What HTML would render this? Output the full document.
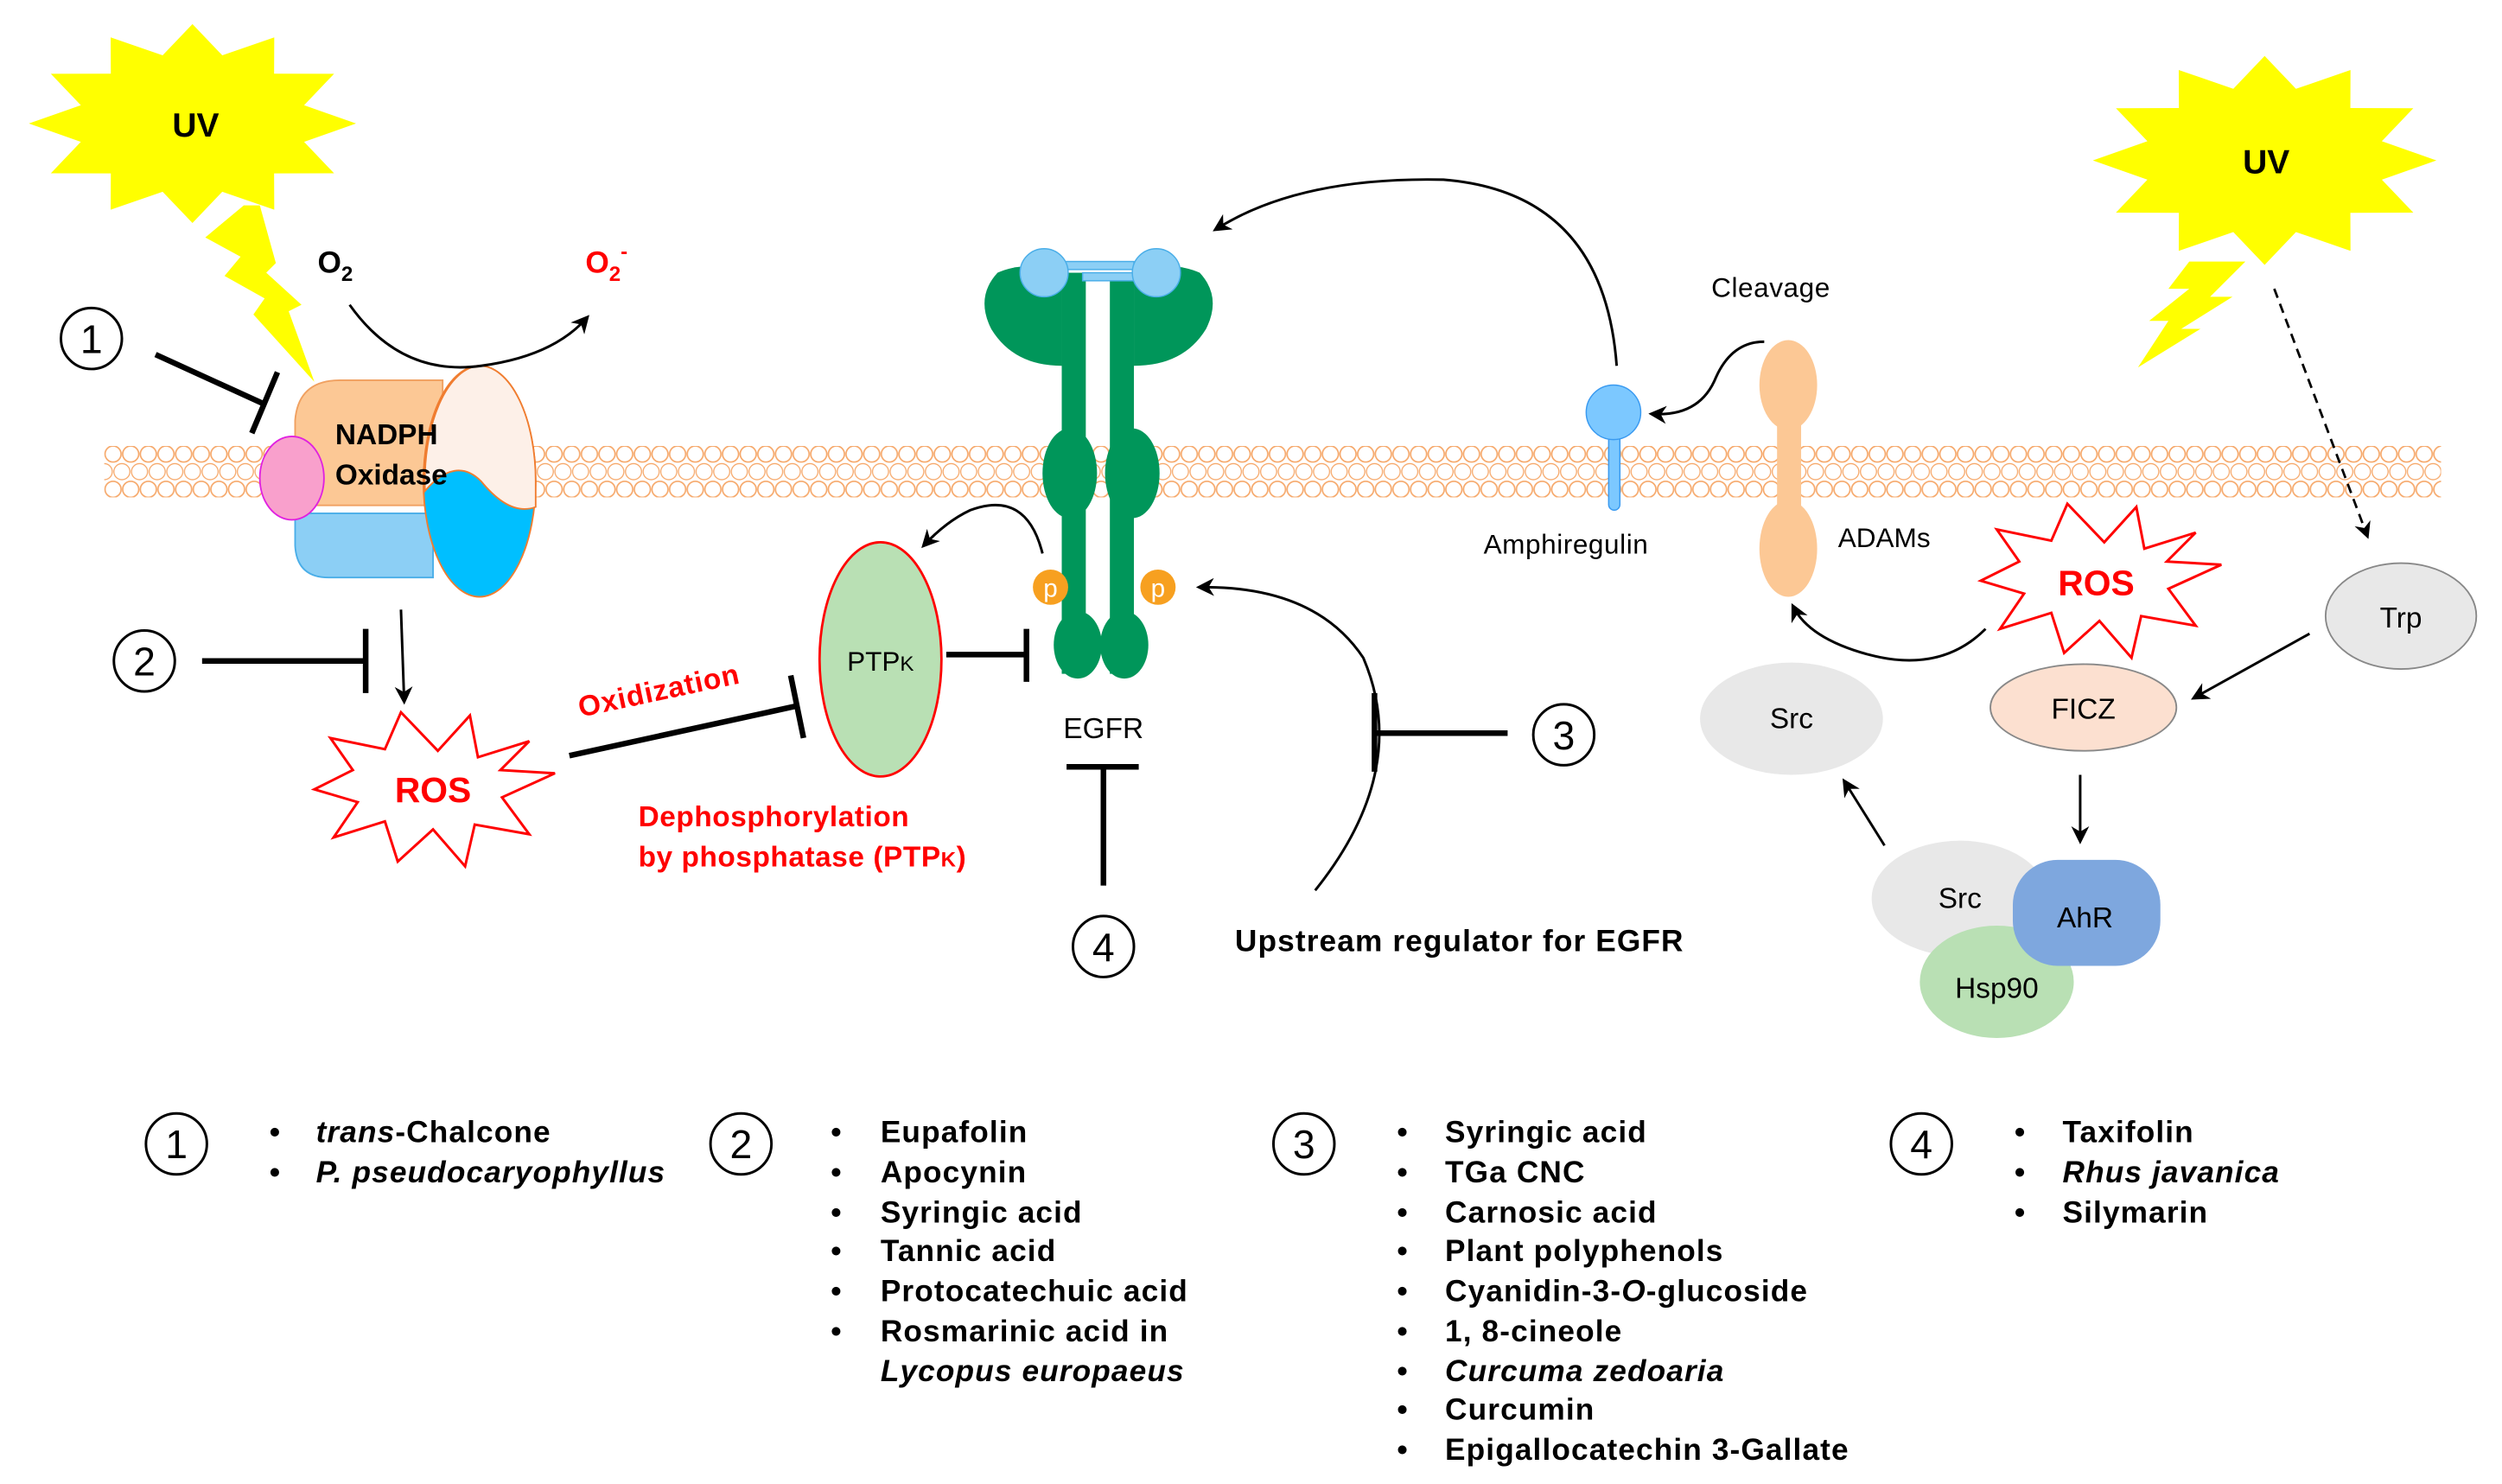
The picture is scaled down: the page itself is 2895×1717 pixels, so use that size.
<!DOCTYPE html>
<html><head><meta charset="utf-8"><style>
html,body{margin:0;padding:0;background:#fff;}
svg{display:block;}
text{font-family:"Liberation Sans",Arial,sans-serif;}
.b{font-weight:bold;}
</style></head><body>
<svg width="2895" height="1717" viewBox="0 0 1560 925" preserveAspectRatio="none" xmlns="http://www.w3.org/2000/svg">
<defs>
<pattern id="mem" x="65" y="278" width="11" height="32" patternUnits="userSpaceOnUse">
<circle cx="5.5" cy="5" r="5" fill="none" stroke="#f6a86a" stroke-width="0.9"/>
<circle cx="5.5" cy="27" r="5" fill="none" stroke="#f6a86a" stroke-width="0.9"/>
<circle cx="0" cy="16" r="5" fill="none" stroke="#f6a86a" stroke-width="0.7"/>
<circle cx="11" cy="16" r="5" fill="none" stroke="#f6a86a" stroke-width="0.7"/>
</pattern>
<marker id="ah" viewBox="0 0 10 10" refX="8" refY="5" markerWidth="7" markerHeight="7" orient="auto"><path d="M0,0 L10,5 L0,10 L3,5 z" fill="#000"/></marker>
<g id="star"><polygon points="102,0 69.6,11.4 88.3,31 50.9,31.1 51,53.7 18.6,42.5 0,62 -18.6,42.5 -51,53.7 -50.9,31.1 -88.3,31 -69.6,11.4 -102,0 -69.6,-11.4 -88.3,-31 -50.9,-31.1 -51,-53.7 -18.6,-42.5 0,-62 18.6,-42.5 51,-53.7 50.9,-31.1 88.3,-31 69.6,-11.4" fill="#ffff00"/></g>
<g id="ros"><polygon points="78,-10 45,5 62,28 28,22 22,48 2,25 -20,45 -28,20 -60,30 -45,8 -72,0 -48,-12 -62,-32 -28,-25 -18,-48 5,-24 25,-46 30,-20 62,-30 44,-12" fill="#fff" stroke="#ff0000" stroke-width="1.6"/></g>
</defs>
<rect x="65" y="278" width="1457" height="32" fill="url(#mem)"/>

<use href="#star" x="120" y="77"/>
<text x="122" y="85" class="b" font-size="21" text-anchor="middle">UV</text>
<polygon points="152,128 128,148 150,160 140,172 165,186 158,196 196,238 180,194 188,190 166,170 172,164 162,128" fill="#ffff00"/>
<g transform="translate(1412,100) scale(1.05,1.05)"><use href="#star"/></g>
<text x="1413" y="108" class="b" font-size="21" text-anchor="middle">UV</text>
<polygon points="1365,163 1400,163 1378,185 1392,185 1360,205 1372,205 1333,229 1352,200 1340,200 1365,180 1352,180" fill="#ffff00"/>

<path d="M184,320 L270,320 L270,360 L205,360 Q185,360 184,340 Z" fill="#8ccff5" stroke="#4aaee8" stroke-width="1"/>
<path d="M184,262 Q186,237 212,237 L276,237 L276,315 L184,315 Z" fill="#fcc895" stroke="#f0a060" stroke-width="1"/>
<ellipse cx="182" cy="298" rx="20" ry="26" fill="#f9a0cc" stroke="#e020e0" stroke-width="1"/>
<ellipse cx="299" cy="300" rx="35" ry="72" fill="#00bfff" stroke="#f07d30" stroke-width="1"/>
<path d="M299,228 A35,72 0 0 1 334,300 L334,316 Q318,322 300,300 Q284,284 265,306 A35,72 0 0 1 299,228 Z" fill="#fdf0e8" stroke="#f07d30" stroke-width="1"/>
<text x="209" y="277" class="b" font-size="18">NADPH</text>
<text x="209" y="302" class="b" font-size="18">Oxidase</text>

<text x="198" y="170" class="b" font-size="19">O<tspan font-size="13" dy="5">2</tspan></text>
<text x="365" y="170" class="b" font-size="19" fill="#ff0000">O<tspan font-size="13" dy="5">2</tspan><tspan font-size="13" dy="-14">-</tspan></text>
<path d="M218,190 Q250,235 300,228 Q345,222 366,198" fill="none" stroke="#000" stroke-width="1.6" marker-end="url(#ah)"/>

<circle cx="57" cy="211" r="19" fill="#fff" stroke="#000" stroke-width="1.6"/>
<text x="57" y="220" font-size="25" text-anchor="middle">1</text>
<path d="M97,221 L165,252" stroke="#000" stroke-width="3.5"/>
<path d="M173,232 L157,270" stroke="#000" stroke-width="3.5"/>
<circle cx="90" cy="412" r="19" fill="#fff" stroke="#000" stroke-width="1.6"/>
<text x="90" y="421" font-size="25" text-anchor="middle">2</text>
<path d="M126,412 L228,412 M228,392 L228,432" stroke="#000" stroke-width="3.5"/>
<path d="M250,380 L252,437" stroke="#000" stroke-width="1.6" marker-end="url(#ah)"/>

<use href="#ros" x="268" y="492"/>
<text x="270" y="500" class="b" font-size="22" fill="#ff0000" text-anchor="middle">ROS</text>

<path d="M355,471 L497,440 M493,421 L501,460" stroke="#000" stroke-width="3.5"/>
<text transform="translate(362,447) rotate(-12)" class="b" font-size="18" fill="#ff0000" letter-spacing="0.5">Oxidization</text>

<ellipse cx="549" cy="411" rx="38" ry="73" fill="#b9e0b4" stroke="#ff0000" stroke-width="1.5"/>
<text x="549" y="418" font-size="17" text-anchor="middle">PTP<tspan font-size="13">K</tspan></text>
<path d="M590,408 L640,408 M640,392 L640,425" stroke="#000" stroke-width="3.5"/>
<text x="398" y="515" class="b" font-size="18" fill="#ff0000" letter-spacing="0.3">Dephosphorylation</text>
<text x="398" y="540" class="b" font-size="18" fill="#ff0000" letter-spacing="0.3">by phosphatase (PTP<tspan font-size="13">K</tspan>)</text>

<g fill="#00965a">
<path d="M662,170 Q640,162 622,170 Q608,185 618,205 Q632,228 662,228 Z"/>
<path d="M707,170 Q730,162 748,170 Q762,185 752,205 Q738,228 707,228 Z"/>
<rect x="662" y="170" width="15" height="250"/>
<rect x="692" y="170" width="15" height="250"/>
<ellipse cx="667" cy="295" rx="17" ry="28"/>
<ellipse cx="706" cy="295" rx="17" ry="28"/>
<ellipse cx="672" cy="402" rx="15" ry="21"/>
<ellipse cx="701" cy="402" rx="15" ry="21"/>
</g>
<rect x="662" y="163" width="45" height="5" fill="#8ccff5" stroke="#4aaee8" stroke-width="0.8"/>
<rect x="675" y="170" width="35" height="5" fill="#8ccff5" stroke="#4aaee8" stroke-width="0.8"/>
<circle cx="651" cy="170" r="15" fill="#8ccff5" stroke="#4aaee8" stroke-width="0.8"/>
<circle cx="721" cy="170" r="15" fill="#8ccff5" stroke="#4aaee8" stroke-width="0.8"/>
<circle cx="655" cy="366" r="11" fill="#f7a020"/>
<circle cx="722" cy="366" r="11" fill="#f7a020"/>
<text x="655" y="372" font-size="16" fill="#fff" text-anchor="middle">p</text>
<text x="722" y="372" font-size="16" fill="#fff" text-anchor="middle">p</text>
<text x="688" y="460" font-size="18" text-anchor="middle">EGFR</text>
<path d="M665,478 L710,478 M688,478 L688,552" stroke="#000" stroke-width="3.5"/>
<circle cx="688" cy="590" r="19" fill="#fff" stroke="#000" stroke-width="1.6"/>
<text x="688" y="599" font-size="25" text-anchor="middle">4</text>

<path d="M650,345 Q640,305 605,318 Q590,325 576,340" fill="none" stroke="#000" stroke-width="1.6" marker-end="url(#ah)"/>
<path d="M1008,228 Q1000,120 900,112 Q810,110 758,143" fill="none" stroke="#000" stroke-width="1.6" marker-end="url(#ah)"/>
<path d="M820,555 Q880,480 850,410 Q820,365 748,366" fill="none" stroke="#000" stroke-width="1.6" marker-end="url(#ah)"/>

<path d="M857,432 L857,481 M857,457 L940,457" stroke="#000" stroke-width="3.5"/>
<circle cx="975" cy="458" r="19" fill="#fff" stroke="#000" stroke-width="1.6"/>
<text x="975" y="467" font-size="25" text-anchor="middle">3</text>
<text x="770" y="593" class="b" font-size="19" letter-spacing="0.6">Upstream regulator for EGFR</text>

<rect x="1003" y="258" width="7" height="60" rx="3.5" fill="#7cc8ff" stroke="#3a9af0" stroke-width="0.8"/>
<circle cx="1006" cy="257" r="17" fill="#7cc8ff" stroke="#3a9af0" stroke-width="0.8"/>
<text x="925" y="345" font-size="17" letter-spacing="0.3">Amphiregulin</text>
<text x="1067" y="185" font-size="17" letter-spacing="0.3">Cleavage</text>
<path d="M1100,213 Q1080,213 1070,235 Q1060,260 1030,258" fill="none" stroke="#000" stroke-width="1.6" marker-end="url(#ah)"/>
<g fill="#fcc895">
<rect x="1108" y="240" width="15" height="100"/>
<ellipse cx="1115" cy="240" rx="18" ry="28"/>
<ellipse cx="1115" cy="342" rx="18" ry="30"/>
</g>
<text x="1146" y="341" font-size="17">ADAMs</text>

<use href="#ros" x="1307" y="362"/>
<text x="1307" y="371" class="b" font-size="22" fill="#ff0000" text-anchor="middle">ROS</text>
<path d="M1238,392 Q1210,420 1165,408 Q1128,398 1118,378" fill="none" stroke="#000" stroke-width="1.6" marker-end="url(#ah)"/>

<ellipse cx="1117" cy="448" rx="57" ry="35" fill="#e8e8e8"/>
<text x="1117" y="454" font-size="18" text-anchor="middle">Src</text>
<ellipse cx="1299" cy="441" rx="58" ry="27" fill="#fce0d0" stroke="#888" stroke-width="1"/>
<text x="1299" y="448" font-size="18" text-anchor="middle">FICZ</text>
<ellipse cx="1497" cy="384" rx="47" ry="33" fill="#e8e8e8" stroke="#888" stroke-width="1"/>
<text x="1497" y="391" font-size="18" text-anchor="middle">Trp</text>
<path d="M1418,180 L1476,334" stroke="#000" stroke-width="1.5" stroke-dasharray="6,4" fill="none" marker-end="url(#ah)"/>
<path d="M1440,395 L1368,435" stroke="#000" stroke-width="1.6" marker-end="url(#ah)"/>
<path d="M1297,483 L1297,524" stroke="#000" stroke-width="1.6" marker-end="url(#ah)"/>
<path d="M1175,527 L1150,487" stroke="#000" stroke-width="1.6" marker-end="url(#ah)"/>

<ellipse cx="1222" cy="560" rx="55" ry="36" fill="#e8e8e8"/>
<ellipse cx="1245" cy="612" rx="48" ry="35" fill="#b9e0b4"/>
<rect x="1255" y="536" width="92" height="66" rx="28" fill="#7ea7de"/>
<text x="1222" y="566" font-size="18" text-anchor="middle">Src</text>
<text x="1300" y="578" font-size="18" text-anchor="middle">AhR</text>
<text x="1245" y="622" font-size="18" text-anchor="middle">Hsp90</text>

<g font-size="19" class="b" letter-spacing="0.6">
<circle cx="110" cy="713" r="19" fill="#fff" stroke="#000" stroke-width="1.6"/>
<text x="110" y="722" font-size="25" font-weight="normal" text-anchor="middle" letter-spacing="0">1</text>
<text x="168" y="712">•</text><text x="197" y="712"><tspan font-style="italic">trans</tspan>-Chalcone</text>
<text x="168" y="737">•</text><text x="197" y="737" font-style="italic">P. pseudocaryophyllus</text>

<circle cx="462" cy="713" r="19" fill="#fff" stroke="#000" stroke-width="1.6"/>
<text x="462" y="722" font-size="25" font-weight="normal" text-anchor="middle" letter-spacing="0">2</text>
<text x="518" y="712">•</text><text x="549" y="712">Eupafolin</text>
<text x="518" y="737">•</text><text x="549" y="737">Apocynin</text>
<text x="518" y="762">•</text><text x="549" y="762">Syringic acid</text>
<text x="518" y="786">•</text><text x="549" y="786">Tannic acid</text>
<text x="518" y="811">•</text><text x="549" y="811">Protocatechuic acid</text>
<text x="518" y="836">•</text><text x="549" y="836">Rosmarinic acid in</text>
<text x="549" y="861" font-style="italic">Lycopus europaeus</text>

<circle cx="813" cy="713" r="19" fill="#fff" stroke="#000" stroke-width="1.6"/>
<text x="813" y="722" font-size="25" font-weight="normal" text-anchor="middle" letter-spacing="0">3</text>
<text x="871" y="712">•</text><text x="901" y="712">Syringic acid</text>
<text x="871" y="737">•</text><text x="901" y="737">TGa CNC</text>
<text x="871" y="762">•</text><text x="901" y="762">Carnosic acid</text>
<text x="871" y="786">•</text><text x="901" y="786">Plant polyphenols</text>
<text x="871" y="811">•</text><text x="901" y="811">Cyanidin-3-<tspan font-style="italic">O</tspan>-glucoside</text>
<text x="871" y="836">•</text><text x="901" y="836">1, 8-cineole</text>
<text x="871" y="861">•</text><text x="901" y="861" font-style="italic">Curcuma zedoaria</text>
<text x="871" y="885">•</text><text x="901" y="885">Curcumin</text>
<text x="871" y="910">•</text><text x="901" y="910">Epigallocatechin 3-Gallate</text>

<circle cx="1198" cy="713" r="19" fill="#fff" stroke="#000" stroke-width="1.6"/>
<text x="1198" y="722" font-size="25" font-weight="normal" text-anchor="middle" letter-spacing="0">4</text>
<text x="1256" y="712">•</text><text x="1286" y="712">Taxifolin</text>
<text x="1256" y="737">•</text><text x="1286" y="737" font-style="italic">Rhus javanica</text>
<text x="1256" y="762">•</text><text x="1286" y="762">Silymarin</text>
</g>
</svg>
</body></html>
